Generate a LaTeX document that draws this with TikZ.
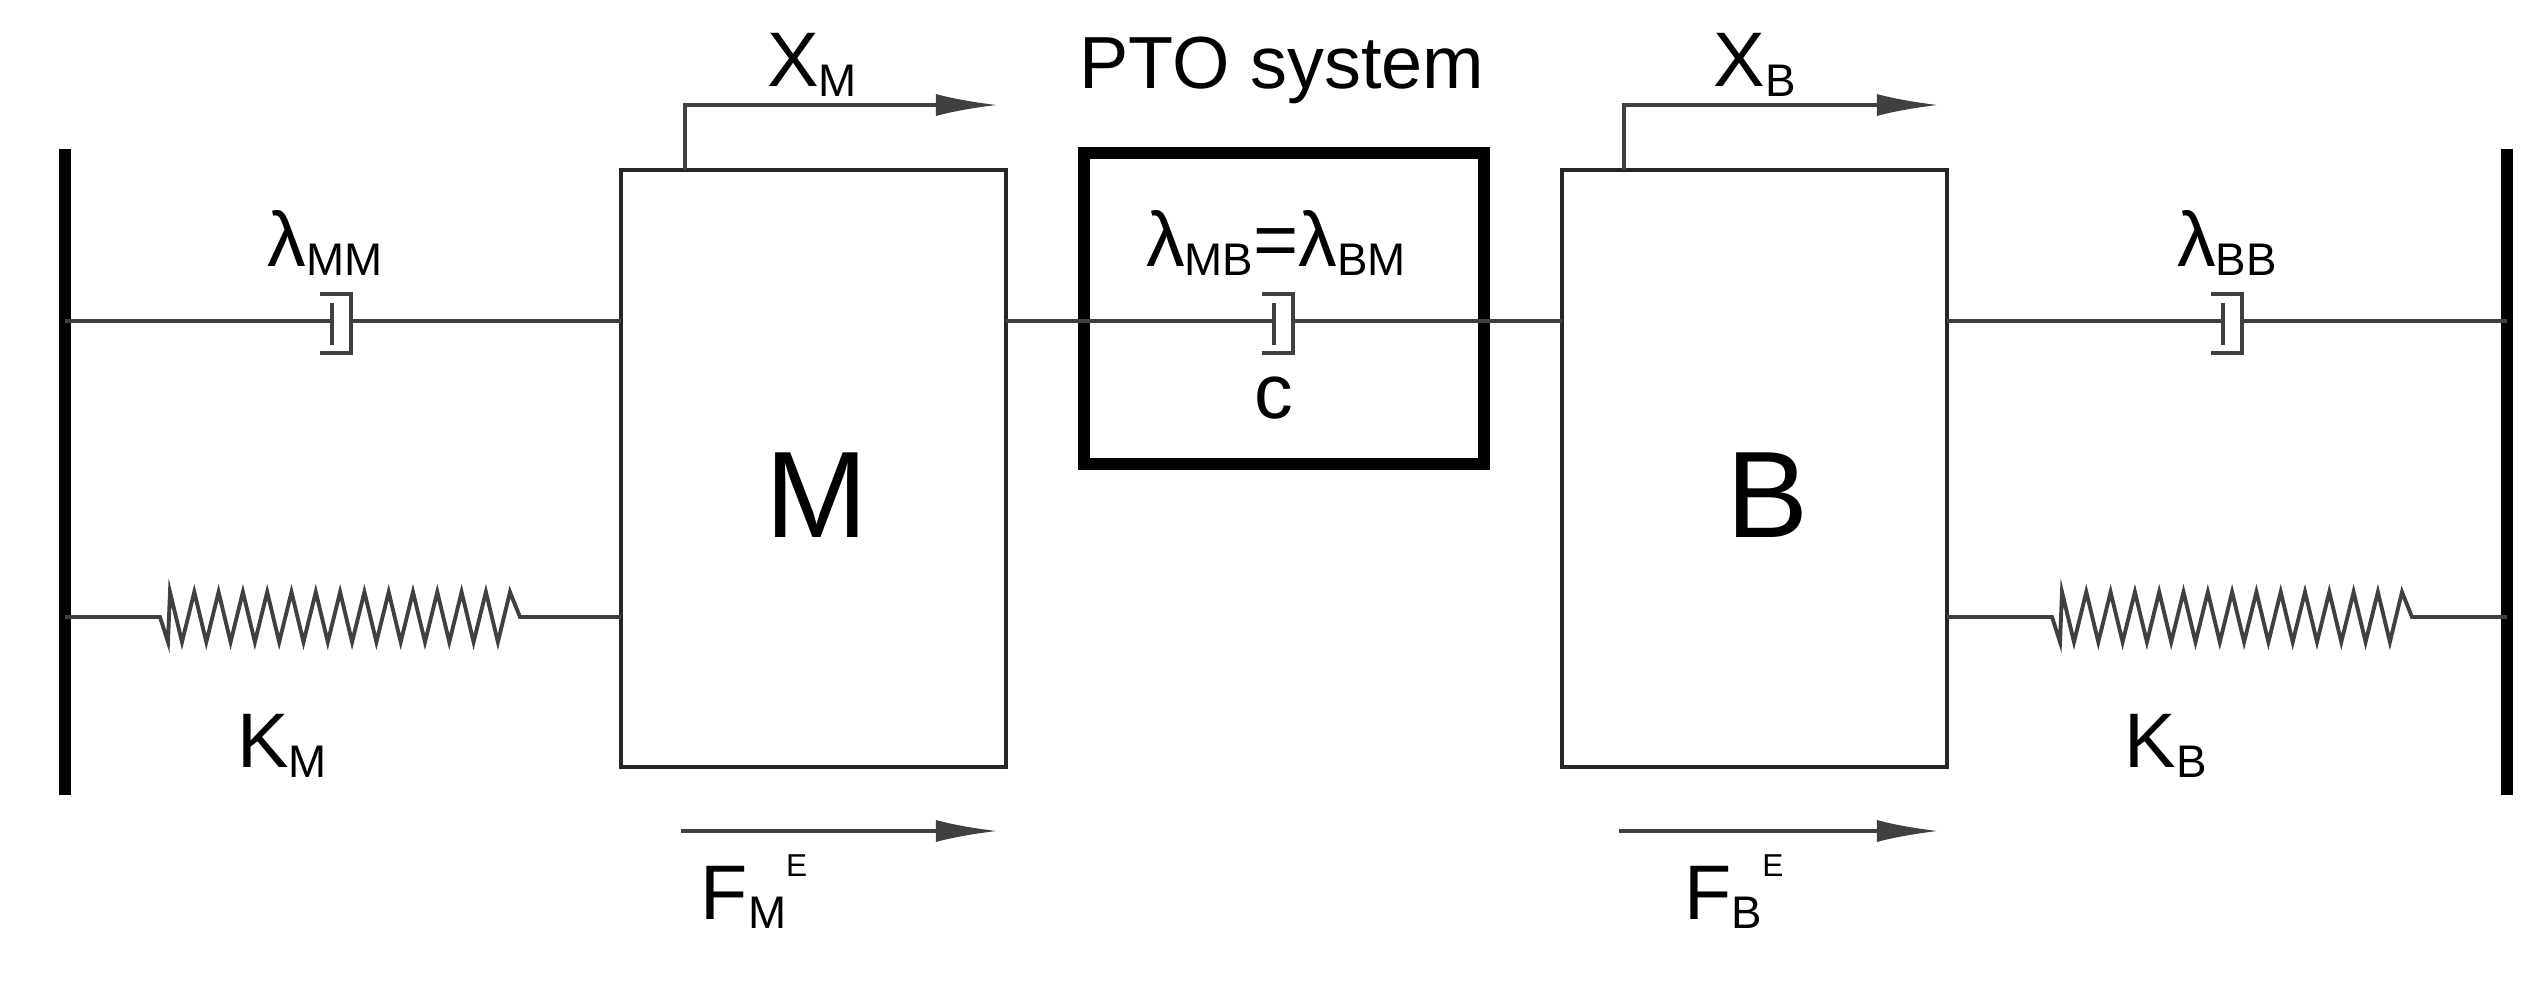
\documentclass[tikz,border=0pt]{standalone}
\usepackage{fontspec}
\setmainfont{Liberation Sans}
\usetikzlibrary{arrows.meta}
\begin{document}
\begin{tikzpicture}[x=0.01cm,y=-0.01cm,
  thin line/.style={line width=1.1pt,draw=black!75},
  arr/.style={thin line,-{Latex[length=0.62cm,width=0.22cm]}},
  lab/.style={font=\fontsize{22}{24}\selectfont,inner sep=0}]
\useasboundingbox (0,0) rectangle (2544,996);
% walls
\draw[line width=3.2pt] (65,149) -- (65,795);
\draw[line width=3.2pt] (2507,149) -- (2507,795);
% masses
\draw[draw=black!85,line width=1.2pt] (621,170) rectangle (1006,767);
\node (M) at (813,170) {};
\draw[draw=black!85,line width=1.2pt] (1562,170) rectangle (1947,767);
\node (B) at (1754,170) {};
\node[font=\fontsize{35}{38}\selectfont] (Ml) at (817,495) {M};
\node[font=\fontsize{35}{38}\selectfont] (Bl) at (1768,495) {B};
% PTO box
\draw[line width=3.3pt] (1084,153) rectangle (1484,464);
\node (pto) at (1284,308) {};
% dampers
\newcommand{\mydamper}[3]{% x, left x, right x
  \draw[thin line] (#2,321) -- (#1,321);
  \draw[thin line] (#1,303) -- (#1,345);
  \draw[thin line] (#1-12,294) -- (#1+19,294) -- (#1+19,353) -- (#1-12,353);
  \draw[thin line] (#1+19,321) -- (#3,321);}
\mydamper{332}{65}{621}
\mydamper{1274}{1006}{1562}
\mydamper{2223}{1947}{2507}
% springs
\newcommand{\myspring}[3]{%
  \draw[thin line] (#1,617) -- (#2,617) -- (#2+8,642)
  \foreach \k in {0,...,13} { -- (#2+10+24.3*\k,592) -- (#2+22+24.3*\k,642)}
  -- (#2+350,592) -- (#2+360,617) -- (#3,617);}
\myspring{65}{160}{621}
\myspring{1947}{2052}{2507}
% displacement arrows
\coordinate (xm0) at (685,170);
\coordinate (xm1) at (998,105);
\draw[arr] (xm0) |- (xm1);
\coordinate (xb0) at (1624,170);
\coordinate (xb1) at (1939,105);
\draw[arr] (xb0) |- (xb1);
% force arrows
\coordinate (fm0) at (681,831);
\coordinate (fm1) at (998,831);
\draw[arr] (fm0) -- (fm1);
\coordinate (fb0) at (1619,831);
\coordinate (fb1) at (1939,831);
\draw[arr] (fb0) -- (fb1);
% labels
\newcommand{\mysub}[1]{\raisebox{-0.12em}{\fontsize{13}{13}\selectfont #1}}
\newcommand{\mysup}[1]{\raisebox{0.55em}{\fontsize{9}{9}\selectfont #1}}
\node[lab] (XM) at (812,65) {X\mysub{M}};
\node[lab] (XB) at (1755,65) {X\mysub{B}};
\node[font=\fontsize{21}{24}\selectfont,inner sep=0] (PTO) at (1282,70) {PTO system};
\node[lab] (lmm) at (325,243) {λ\mysub{MM}};
\node[lab] (lmb) at (1276,243) {λ\mysub{MB}=λ\mysub{BM}};
\node[lab] (lbb) at (2227,243) {λ\mysub{BB}};
\node[lab] (c) at (1274,398) {c};
\node[lab] (KM) at (282,746) {K\mysub{M}};
\node[lab] (KB) at (2166,746) {K\mysub{B}};
\node[lab] (FM) at (754,892) {F\mysub{M}\mysup{E}};
\node[lab] (FB) at (1734,892) {F\mysub{B}\mysup{E}};
\end{tikzpicture}
\end{document}
